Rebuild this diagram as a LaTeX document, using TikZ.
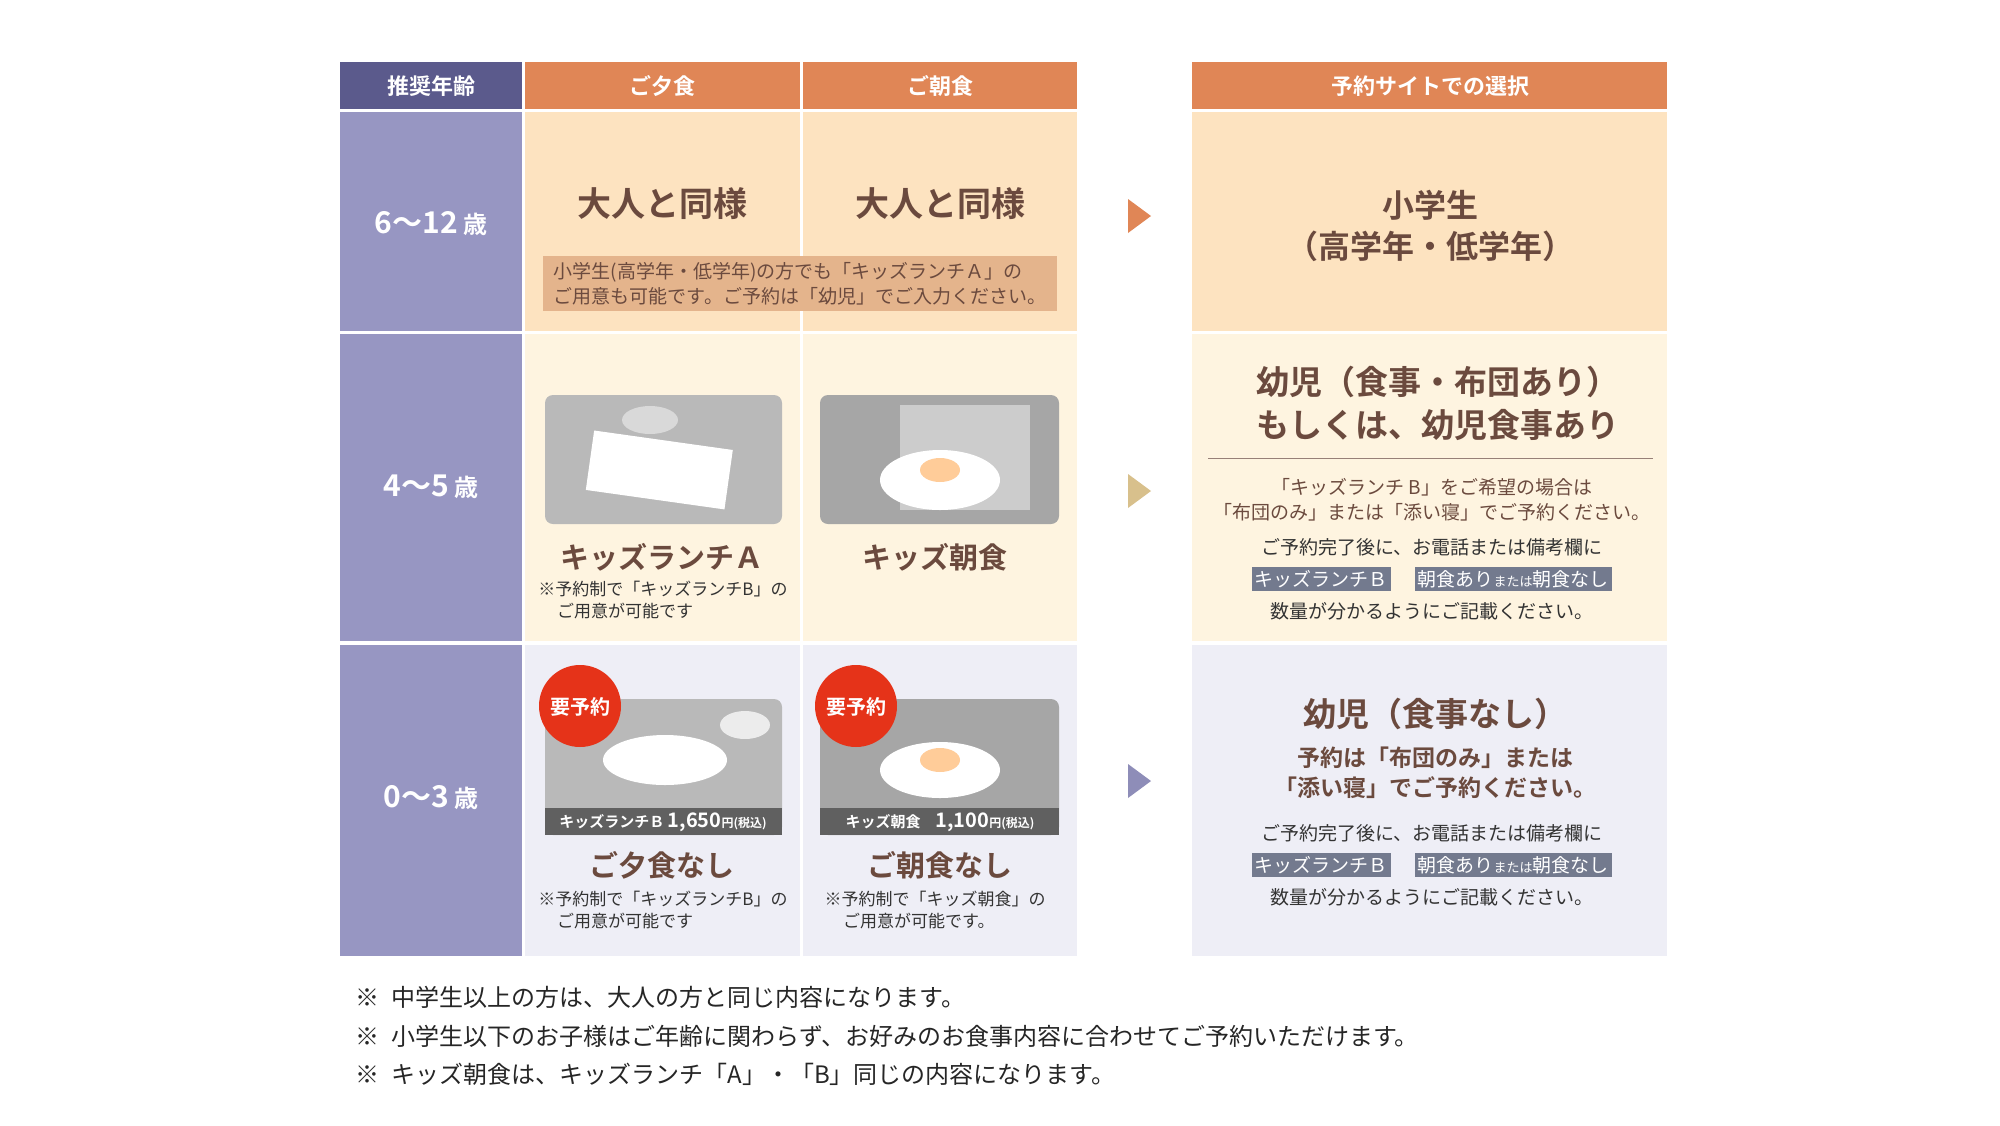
\documentclass[tikz,border=0pt]{standalone}
\usepackage{fontspec}
\setmainfont{Noto Sans CJK JP}[BoldFont={Noto Sans CJK JP Bold}]
\definecolor{navy}{HTML}{5B5A8C}
\definecolor{orng}{HTML}{E08656}
\definecolor{agec}{HTML}{9796C2}
\definecolor{rA}{HTML}{FDE3C0}
\definecolor{rB}{HTML}{FEF4E0}
\definecolor{rC}{HTML}{EEEEF6}
\definecolor{notec}{HTML}{E4B48C}
\definecolor{txt}{HTML}{6B4A3E}
\definecolor{tagc}{HTML}{737A8E}
\definecolor{arrA}{HTML}{E08656}
\definecolor{arrB}{HTML}{D8C08C}
\definecolor{arrC}{HTML}{8E8DB8}
\newcommand\fs[1]{\fontsize{#1}{\fpeval{#1*1.3}}\selectfont}
\tikzset{
 hdr/.style={text=white,font=\fs{22}\bfseries},
 big/.style={text=txt,font=\fs{34}\bfseries},
 mid/.style={text=txt,font=\fs{29}\bfseries,align=center},
 sm/.style={text=txt,font=\fs{19},align=left},
 smc/.style={text=black!80,font=\fs{19},align=center},
 tag/.style={fill=tagc,text=white,font=\fs{19},inner sep=3pt,minimum height=24pt},
 photo/.style={rounded corners=8pt,fill=gray!55},
 age/.style={text=white,font=\fs{30}\bfseries},
}
\begin{document}
\begin{tikzpicture}[x=1pt,y=-1pt]
\useasboundingbox (0,0) rectangle (2000,1125);
\fill[white] (0,0) rectangle (2000,1125);
% header
\fill[navy] (340,62) rectangle (522,109);
\fill[orng] (525,62) rectangle (800,109);
\fill[orng] (803,62) rectangle (1077,109);
\fill[orng] (1192,62) rectangle (1667,109);
\node[hdr] (h1) at (431,86) {推奨年齢};
\node[hdr] (h2) at (662,86) {ご夕食};
\node[hdr] (h3) at (940,86) {ご朝食};
\node[hdr] (h4) at (1430,86) {予約サイトでの選択};
% age column
\fill[agec] (340,112) rectangle (522,331);
\fill[agec] (340,334) rectangle (522,641);
\fill[agec] (340,645) rectangle (522,956);
\node[age] (a1) at (431,224) {6～12\,{\fs{24}歳}};
\node[age] (a2) at (431,487) {4～5\,{\fs{24}歳}};
\node[age] (a3) at (431,798) {0～3\,{\fs{24}歳}};
% row backgrounds
\fill[rA] (525,112) rectangle (800,331);
\fill[rA] (803,112) rectangle (1077,331);
\fill[rA] (1192,112) rectangle (1667,331);
\fill[rB] (525,334) rectangle (800,641);
\fill[rB] (803,334) rectangle (1077,641);
\fill[rB] (1192,334) rectangle (1667,641);
\fill[rC] (525,645) rectangle (800,956);
\fill[rC] (803,645) rectangle (1077,956);
\fill[rC] (1192,645) rectangle (1667,956);
% row 1
\node[big] (d1) at (662,204) {大人と同様};
\node[big] (b1) at (940,204) {大人と同様};
\fill[notec] (543,256) rectangle (1057,311);
\node[sm,text=txt] (n1) at (800,284) {小学生(高学年・低学年)の方でも「キッズランチＡ」の\\ご用意も可能です。ご予約は「幼児」でご入力ください。};
\node[mid,font=\fs{32}\bfseries] (s1) at (1430,226) {小学生\\（高学年・低学年）};
% row 2 photos
\fill[photo] (545,395) rectangle (782,524);
\fill[white,rotate around={-8:(660,465)}] (590,440) rectangle (730,500);
\fill[gray!30!white] (650,420) ellipse (28pt and 14pt);
\fill[photo,fill=gray!70] (820,395) rectangle (1059,524);
\fill[gray!40] (900,405) rectangle (1030,510);
\fill[white] (940,480) ellipse (60pt and 30pt);
\fill[orange!40!white] (940,470) ellipse (20pt and 12pt);
\node[big,font=\fs{29}\bfseries] (d2) at (662,557) {キッズランチＡ};
\node[big,font=\fs{29}\bfseries] (b2) at (935,557) {キッズ朝食};
\node[sm,text=black!80,font=\fs{17}] (nd2) at (663,600) {※予約制で「キッズランチB」の\\\hspace{1.1em}ご用意が可能です};
% row 2 right
\node[mid,font=\fs{33}\bfseries] (s2) at (1438,403) {幼児（食事・布団あり）\\もしくは、幼児食事あり};
\draw[txt!70,line width=0.8pt] (1208,458) -- (1653,458);
\node[smc,text=txt] (s2a) at (1432,500) {「キッズランチ B」をご希望の場合は\\「布団のみ」または「添い寝」でご予約ください。};
\node[smc] (s2b) at (1432,547) {ご予約完了後に、お電話または備考欄に};
\node[tag] (t1) at (1321,579) {キッズランチＢ};
\node[tag] (t2) at (1513,579) {朝食あり{\fs{13}または}朝食なし};
\node[smc] (s2c) at (1432,611) {数量が分かるようにご記載ください。};
% row 3 photos
\fill[photo] (545,699) rectangle (782,835);
\fill[white] (665,760) ellipse (62pt and 25pt);
\fill[gray!15] (745,725) ellipse (25pt and 14pt);
\fill[gray!75!black] (545,808) rectangle (782,835);
\node[text=white,font=\fs{15}\bfseries] (p1) at (663,822) {キッズランチＢ {\fs{20}1,650}{\fs{12}円(税込)}};
\fill[photo,fill=gray!70] (820,699) rectangle (1059,835);
\fill[white] (940,770) ellipse (60pt and 28pt);
\fill[orange!40!white] (940,760) ellipse (20pt and 12pt);
\fill[gray!75!black] (820,808) rectangle (1059,835);
\node[text=white,font=\fs{15}\bfseries] (p2) at (940,822) {キッズ朝食\quad{\fs{20}1,100}{\fs{12}円(税込)}};
\fill[red!60!brown] (580,706) circle (41pt);
\node[text=white,font=\fs{20}\bfseries] (y1) at (580,707) {要予約};
\fill[red!60!brown] (856,706) circle (41pt);
\node[text=white,font=\fs{20}\bfseries] (y2) at (856,707) {要予約};
\node[big,font=\fs{29}\bfseries] (d3) at (662,865) {ご夕食なし};
\node[big,font=\fs{29}\bfseries] (b3) at (940,865) {ご朝食なし};
\node[sm,text=black!80,font=\fs{17}] (nd3) at (663,910) {※予約制で「キッズランチB」の\\\hspace{1.1em}ご用意が可能です};
\node[sm,text=black!80,font=\fs{17}] (nb3) at (935,910) {※予約制で「キッズ朝食」の\\\hspace{1.1em}ご用意が可能です。};
% row 3 right
\node[mid,font=\fs{33}\bfseries] (s3) at (1435,714) {幼児（食事なし）};
\node[mid,font=\fs{23}\bfseries] (s3a) at (1435,773) {予約は「布団のみ」または\\「添い寝」でご予約ください。};
\node[smc] (s3b) at (1432,833) {ご予約完了後に、お電話または備考欄に};
\node[tag] (t3) at (1321,865) {キッズランチＢ};
\node[tag] (t4) at (1513,865) {朝食あり{\fs{13}または}朝食なし};
\node[smc] (s3c) at (1432,897) {数量が分かるようにご記載ください。};
% arrows
\fill[arrA] (1128,199) -- (1151,216) -- (1128,233) -- cycle;
\fill[arrB] (1128,474) -- (1151,491) -- (1128,508) -- cycle;
\fill[arrC] (1128,764) -- (1151,781) -- (1128,798) -- cycle;
% footnotes
\node[anchor=west,font=\fs{24},text=black!85] (f1) at (352,997) {※\enspace 中学生以上の方は、大人の方と同じ内容になります。};
\node[anchor=west,font=\fs{24},text=black!85] (f2) at (352,1036) {※\enspace 小学生以下のお子様はご年齢に関わらず、お好みのお食事内容に合わせてご予約いただけます。};
\node[anchor=west,font=\fs{24},text=black!85] (f3) at (352,1074) {※\enspace キッズ朝食は、キッズランチ「A」・「B」同じの内容になります。};
\end{tikzpicture}
\end{document}
